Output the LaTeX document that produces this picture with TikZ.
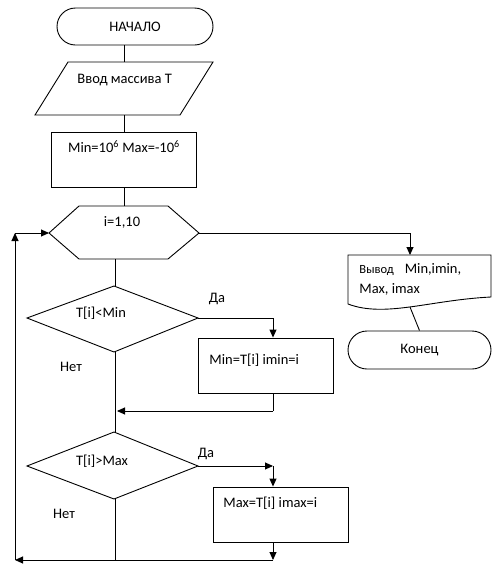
\documentclass[tikz,border=0pt]{standalone}
\usepackage{fontspec}
\setmainfont{Carlito}
\usetikzlibrary{shapes.misc,arrows.meta}
\begin{document}
\begin{tikzpicture}[x=1pt,y=-1pt,line width=0.9pt,
  every node/.style={font=\fontsize{14.5}{16}\selectfont, inner sep=0pt},
  term/.style={draw, rounded rectangle, minimum width=156pt, minimum height=37pt},
  box/.style={draw, rectangle, minimum width=135pt, minimum height=55pt},
  arr/.style={-{Triangle[length=8pt,width=7pt]}},
  lbl/.style={anchor=center}]
\useasboundingbox (0,0) rectangle (500,571);
% start
\node[term] (start) at (135,26.5) {НАЧАЛО};
% input parallelogram
\coordinate (inT) at (124,62);
\coordinate (inB) at (124,115);
\draw (68,62) -- (213,62) -- (180,115) -- (35,115) -- cycle;
\node[anchor=west] (intext) at (77,80) {Ввод массива Т};
% init box
\node[box, minimum width=145pt] (init) at (123.5,159.5) {};
\node[anchor=center] (inittext) at (124,147) {Min=10\textsuperscript{6} Max=-10\textsuperscript{6}};
% hexagon
\coordinate (hexT) at (124,206);
\coordinate (hexB) at (115,259);
\coordinate (hexL) at (49,233);
\coordinate (hexR) at (199,233);
\draw (79,206) -- (168,206) -- (hexR) -- (168,259) -- (79,259) -- (hexL) -- cycle;
\node (hextext) at (122,222) {i=1,10};
% diamond 1
\coordinate (d1T) at (114,286);
\coordinate (d1R) at (198,318);
\coordinate (d1B) at (114,352);
\coordinate (d1L) at (27,318);
\draw (d1T) -- (d1R) -- (d1B) -- (d1L) -- cycle;
\node (d1text) at (101,313) {T[i]<Min};
% box 1
\node[box] (b1) at (265.5,365.5) {};
\node[anchor=west] (b1text) at (209,360) {Min=T[i] imin=i};
% diamond 2
\coordinate (d2T) at (114,432);
\coordinate (d2R) at (198,466);
\coordinate (d2B) at (114,499);
\coordinate (d2L) at (27,466);
\draw (d2T) -- (d2R) -- (d2B) -- (d2L) -- cycle;
\node (d2text) at (102,461) {T[i]>Max};
% box 2
\node[box] (b2) at (280.5,514.5) {};
\node[anchor=west] (b2text) at (223,503) {Max=T[i] imax=i};
% output document
\coordinate (docT) at (410,255);
\coordinate (docB) at (410,307);
\draw (348,255) -- (491,255) -- (491,297) .. controls (430,300) and (385,318) .. (348,304) -- cycle;
\node[anchor=west] (doc1) at (359,270) {{\fontsize{12.5}{14}\selectfont Вывод}\hspace{11pt}Min,imin,};
\node[anchor=west] (doc2) at (359,289) {Max, imax};
% end
\node[term, minimum width=143pt, minimum height=38pt] (end) at (419.5,350) {Конец};
% labels
\node (yes1) at (217,299) {Да};
\node (no1) at (71,367) {Нет};
\node (yes2) at (206,454) {Да};
\node (no2) at (64,514) {Нет};
% connectors
\coordinate (j1) at (273,318);
\coordinate (j2) at (273,411);
\coordinate (j3) at (273,466);
\coordinate (j4) at (273,560);
\coordinate (m2) at (115,560);
\coordinate (lb) at (15,560);
\coordinate (lt) at (15,233);
\coordinate (r1) at (410,233);
\draw (inT |- start.south) -- (inT);
\draw (inB) -- (inB |- init.north);
\draw (inB |- init.south) -- (hexT);
\draw (hexB) -- (hexB |- d1T);
\draw (d1R) -- (j1);
\draw[arr] (j1) -- (b1.north -| j1);
\draw (b1.south -| j2) -- (j2);
\draw[arr] (j2) -- (117,411);
\draw (hexB |- d1B) -- (hexB |- d2T);
\draw[arr] (d2R) -- (j3);
\draw[arr] (j3) -- (b2.north -| j3);
\draw[arr] (b2.south -| j4) -- (j4);
\draw (hexB |- d2B) -- (m2);
\draw[arr] (j4) -- (lb);
\draw[arr] (lb) -- (lt);
\draw[arr] (lt) -- (hexL);
\draw (hexR) -- (r1);
\draw[arr] (r1) -- (docT);
\draw (docB) -- (end.north);
\end{tikzpicture}
\end{document}
